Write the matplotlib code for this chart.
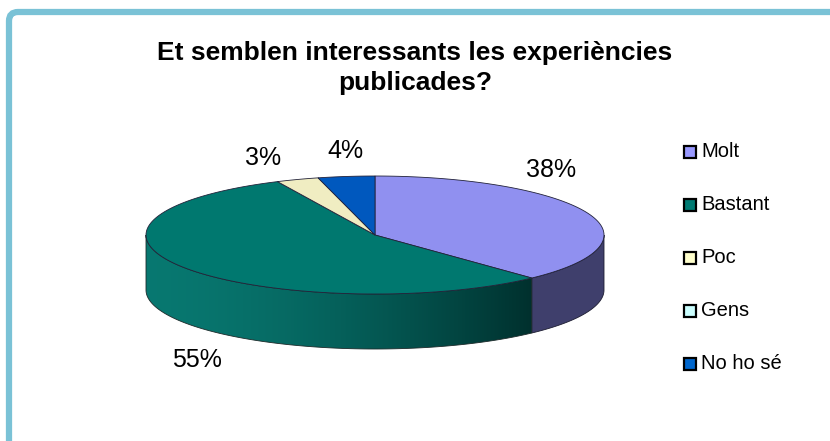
import numpy as np
import matplotlib.pyplot as plt
from matplotlib.patches import Polygon, FancyBboxPatch

plt.rcParams['font.family'] = ['Liberation Sans', 'DejaVu Sans']

title_lines = ["Et semblen interessants les experiències", "publicades?"]
categories = ["Molt", "Bastant", "Poc", "Gens", "No ho sé"]
percents = [38, 55, 3, 0, 4]
top_colors = ["#9090F0", "#00786F", "#F0EDC2", "#CCFFFF", "#0058BE"]
legend_colors = ["#9999FF", "#007A72", "#FFFFCC", "#CCFFFF", "#0066CC"]
side_colors = ["#3F3F6C", None, "#A8A585", "#8FB3B3", "#003D85"]

# pie geometry in pixels
cx, cy = 375, 235
rx, ry = 229, 59
depth = 55

fig = plt.figure(figsize=(8.3, 4.41), dpi=100)
ax = fig.add_axes([0, 0, 1, 1])
ax.set_xlim(0, 830)
ax.set_ylim(441, 0)
ax.axis('off')

# frame around the chart area
frame = FancyBboxPatch((9, 12), 860, 470, boxstyle="round,pad=0,rounding_size=9",
                       facecolor='white', edgecolor='#7AC2D6', linewidth=4.5, zorder=0)
ax.add_patch(frame)


def arc(a0, a1, n=120, dy=0):
    t = np.radians(np.linspace(a0, a1, n))
    return np.column_stack([cx + rx * np.cos(t), cy - ry * np.sin(t) + dy])


# slice angles, clockwise from 12 o'clock
fracs = np.array(percents) / sum(percents)
ends = 90 - 360 * np.cumsum(fracs)
starts = np.concatenate([[90], ends[:-1]])

# side walls of the front half
for i, (a0, a1) in enumerate(zip(starts, ends)):
    if a0 == a1:
        continue
    for lo, hi in [(-180, 0), (-540, -360)]:
        s, e = min(a0, hi), max(a1, lo)
        if s <= e:
            continue
        top = arc(s, e)
        bottom = arc(e, s, dy=depth)
        pts = np.vstack([top, bottom])
        if side_colors[i] is None:
            poly = Polygon(pts, closed=True, facecolor='none', edgecolor='#1c2a2a',
                           linewidth=0.6, zorder=3)
            ax.add_patch(poly)
            x0, x1 = pts[:, 0].min(), pts[:, 0].max()
            g = np.linspace(0, 1, 256) ** 1.6
            c0 = np.array([0.03, 0.47, 0.44])
            c1 = np.array([0.0, 0.19, 0.18])
            grad = (c0[None, :] * (1 - g[:, None]) + c1[None, :] * g[:, None])[None, :, :]
            im = ax.imshow(grad, extent=(x0, x1, pts[:, 1].max(), pts[:, 1].min()),
                           aspect='auto', zorder=2, interpolation='bilinear')
            im.set_clip_path(poly)
        else:
            ax.add_patch(Polygon(pts, closed=True, facecolor=side_colors[i],
                                 edgecolor='#1c1c30', linewidth=0.6, zorder=2))

# top face
for i, (a0, a1) in enumerate(zip(starts, ends)):
    if a0 == a1:
        continue
    pts = np.vstack([[cx, cy], arc(a0, a1)])
    ax.add_patch(Polygon(pts, closed=True, facecolor=top_colors[i],
                         edgecolor='#22223a', linewidth=0.6, zorder=4))

# percentage labels
label_pos = [(551, 177), (197, 367), (263, 165), None, (345, 158)]
for p, pos in zip(percents, label_pos):
    if pos is None:
        continue
    ax.text(pos[0], pos[1], f"{p}%", fontsize=18, ha='center', va='baseline', zorder=5)

# title
ax.text(415, 60, title_lines[0], fontsize=19, fontweight='bold', ha='center', va='baseline')
ax.text(415, 90, title_lines[1], fontsize=19, fontweight='bold', ha='center', va='baseline')

# legend
for i, (name, col) in enumerate(zip(categories, legend_colors)):
    base = 157 + i * 53
    ax.plot(690, base - 5.5, marker='s', ms=8.5, mfc=col, mec='black', mew=1.6, zorder=5)
    ax.text(701, base, name, fontsize=14.5, ha='left', va='baseline')

fig.savefig('out.png', dpi=100)
